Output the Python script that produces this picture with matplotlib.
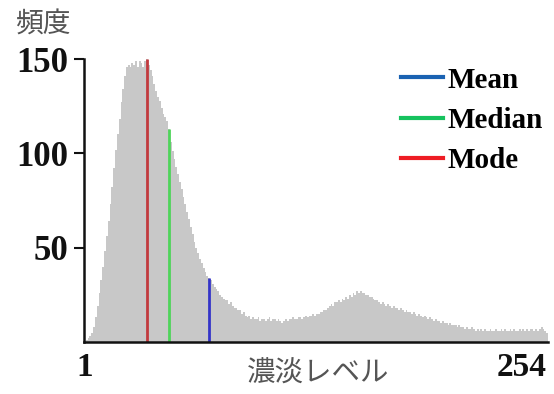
import matplotlib
matplotlib.use("Agg")
import matplotlib.pyplot as plt
from matplotlib.lines import Line2D
import numpy as np

# Grey levels 1..254 and their frequencies
levels = list(range(1, 255))
counts = [
    0.5, 1, 2, 3, 5, 8, 13, 19, 26, 33,            # 1-10
    40, 48, 56, 64, 73, 82, 92, 102, 110, 118,     # 11-20
    127, 134, 141, 146, 147, 146, 148, 147, 149, 146,  # 21-30
    149, 148, 146, 149, 150, 147, 144, 141, 137, 133,  # 31-40
    130, 128, 124, 121, 119, 117, 113, 106, 101, 97,   # 41-50
    93, 89, 85, 81, 77, 73, 69, 65, 61, 57,        # 51-60
    53, 50, 47, 44, 42, 39, 37, 35, 34, 33,        # 61-70
    31, 29, 28, 27, 25, 24, 23, 22, 22, 20,        # 71-80
    21, 19, 18, 18, 17, 17, 15, 16, 14, 13,        # 81-90
    14, 12, 13, 12, 12, 13, 11, 12, 12, 11,        # 91-100
    12, 13, 11, 12, 12, 11, 12, 11, 10, 11,        # 101-110
    12, 11, 12, 12, 13, 12, 12, 13, 13, 12,        # 111-120
    13, 14, 13, 14, 14, 15, 14, 15, 15, 16,        # 121-130
    16, 17, 17, 18, 19, 20, 19, 21, 21, 22,        # 131-140
    21, 23, 22, 24, 23, 25, 24, 26, 25, 27,        # 141-150
    26, 27, 26, 26, 25, 25, 24, 24, 23, 22,        # 151-160
    22, 21, 20, 21, 20, 19, 20, 19, 18, 19,        # 161-170
    18, 18, 17, 18, 17, 16, 17, 16, 16, 15,        # 171-180
    16, 15, 14, 15, 14, 13, 14, 13, 12, 13,        # 181-190
    12, 11, 12, 11, 11, 10, 11, 10, 10, 9,         # 191-200
    10, 9, 9, 9, 8, 9, 8, 8, 7, 8,                 # 201-210
    7, 7, 8, 7, 6, 7, 6, 7, 6, 7,                  # 211-220
    6, 6, 7, 6, 6, 7, 6, 6, 7, 6,                  # 221-230
    7, 6, 6, 7, 6, 7, 6, 6, 7, 6,                  # 231-240
    7, 6, 7, 6, 7, 7, 6, 7, 6, 7,                  # 241-250
    8, 7, 6, 5,                                    # 251-254
]

mode_level = 35
median_level = 47
mean_level = 69

stat_names = ["Mean", "Median", "Mode"]
stat_levels = [mean_level, median_level, mode_level]
line_colors = ["#3434c8", "#4ed45a", "#c23a3e"]
legend_colors = ["#1a62b2", "#16c25e", "#ee1c24"]

xtick_labels = ["1", "254"]
ytick_values = [50, 100, 150]

fig = plt.figure(figsize=(5.54, 3.94), dpi=100)
ax = fig.add_axes([84 / 554, 1 - 342 / 394, (548 - 84) / 554, (342 - 59) / 394])

edges = np.arange(levels[0] - 0.5, levels[-1] + 1.0, 1.0)
ax.stairs(counts, edges, fill=True, color="#c8c8c8", linewidth=0)

for lv, c in zip(stat_levels, line_colors):
    ax.vlines(lv, 0, counts[levels.index(lv)], color=c, linewidth=2.0)

ax.set_xlim(0.5, 254.5)
ax.set_ylim(0, 150)

for s in ["top", "right"]:
    ax.spines[s].set_visible(False)
for s in ["left", "bottom"]:
    ax.spines[s].set_linewidth(1.8)
    ax.spines[s].set_color("#111111")

serif_bold = {"family": "Liberation Serif", "weight": "bold"}

ax.set_yticks(ytick_values)
ax.set_yticklabels([str(v) for v in ytick_values], fontdict=dict(serif_bold, size=25))
ax.tick_params(axis="y", length=7, width=1.5, pad=4, colors="#111111")

ax.set_xticks([levels[0], levels[-1]])
ax.set_xticklabels(xtick_labels, fontdict=dict(serif_bold, size=24))
ax.tick_params(axis="x", length=0, pad=7, colors="#111111")
xl = ax.get_xticklabels()
xl[1].set_horizontalalignment("right")

handles = [Line2D([0], [0], color=c, linewidth=3) for c in legend_colors]
leg = ax.legend(handles, stat_names, loc="upper right", bbox_to_anchor=(1.033, 1.045),
                frameon=False, prop=dict(family="Liberation Serif", weight="bold", size=21),
                handlelength=1.45, handletextpad=0.15, labelspacing=0.45, borderpad=0.2)

cjk = ["Noto Sans CJK JP", "DejaVu Sans"]
fig.text(15 / 554, 1 - 25 / 394, "頻度", family=cjk, size=20, color="#555555",
         ha="left", va="center")
fig.text(318 / 554, 1 - 374 / 394, "濃淡レベル", family=cjk, size=20.5, color="#555555",
         ha="center", va="center")

fig.savefig("out.png", dpi=100)
